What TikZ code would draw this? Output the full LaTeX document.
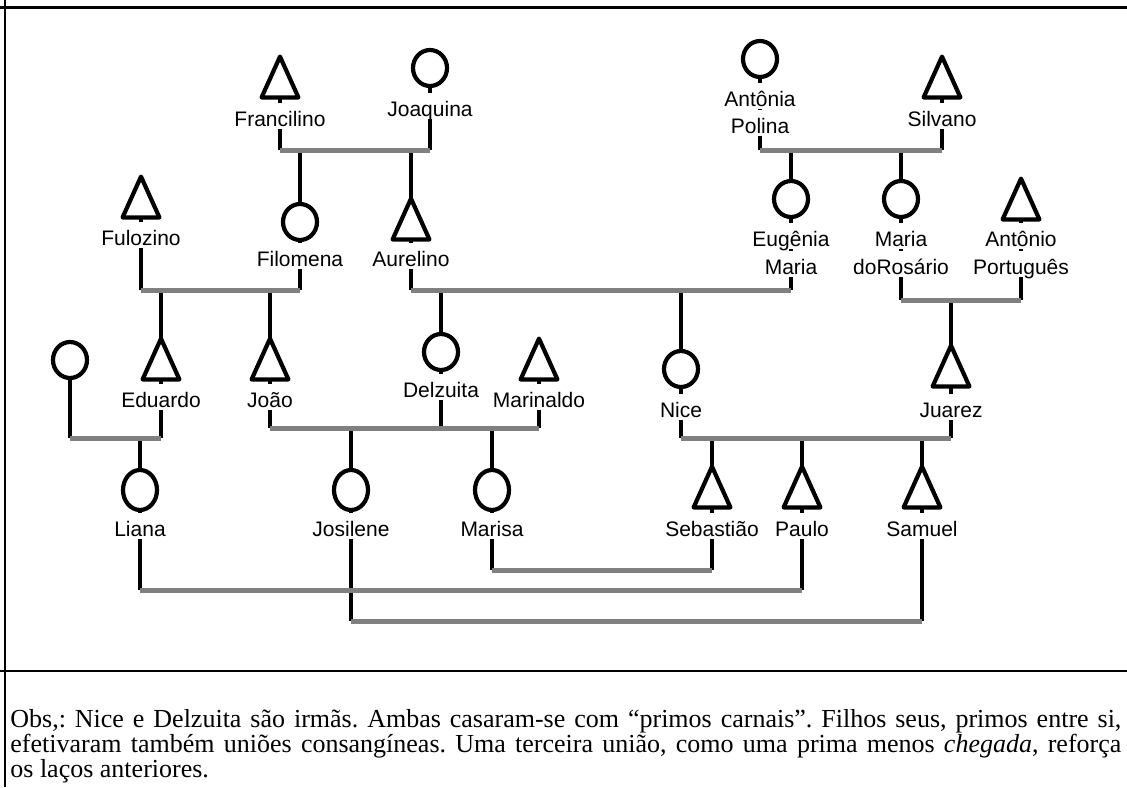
\documentclass[tikz,border=0pt]{standalone}
\usepackage{fontspec}
\setmainfont{Liberation Serif}
\setsansfont{Liberation Sans}
\usepackage{tikz}
\usepackage{xcolor}
\usetikzlibrary{shapes.geometric, positioning}

% homem: triangulo, mulher: circulo
\newcommand{\homem}[2]{%
  \node[simbolo, minimum width=18pt, minimum height=20pt] (#1) at (#2) {};
  \draw[contorno] (#1.north) -- (#1.south east) -- (#1.south west) -- cycle;}
\newcommand{\mulher}[3][18pt]{%
  \node[simbolo, ellipse, draw, contorno, minimum width=17pt, minimum height=#1] (#2) at (#3) {};}

\begin{document}
\frenchspacing
\begin{tikzpicture}[
    x=0.5pt, y=-0.5pt,
    simbolo/.style={
        rectangle,
        inner sep=0pt
    },
    contorno/.style={line width=2.1pt, line join=round},
    linha/.style={line width=2pt},
    casal/.style={line width=2.5pt, draw=gray},
    rotulo/.style={
        rectangle,
        inner sep=0pt,
        outer sep=0pt,
        text height=11.5pt,
        text depth=1.5pt,
        anchor=base,
        font=\sffamily\fontsize{10.5}{12}\selectfont
    },
    nota/.style={
        text width=555.5pt,
        align=justify,
        inner sep=0pt,
        anchor=base west,
        font=\fontsize{13}{12.5}\selectfont
    }
]
    \useasboundingbox (0,0) rectangle (1127,787);

    % Moldura
    \draw[line width=1pt] (4.5,0) -- (4.5,787);
    \draw[line width=1.4pt] (0,7.5) -- (1127,7.5);
    \draw[line width=1.4pt] (0,671) -- (1127,671);

    % 1. Primeira geracao
    \homem{fran}{280,77}
    \mulher{joaq}{430,68}
    \mulher{anto}{760,59}
    \homem{silv}{942,77}

    % 2. Segunda geracao
    \homem{fulo}{141,197}
    \mulher{filo}{300,222}
    \homem{aure}{411,219}
    \mulher{eugm}{791,199}
    \mulher{mros}{901,199}
    \homem{apor}{1021,199}

    % 3. Terceira geracao
    \mulher{espo}{70,360}
    \homem{edua}{161,359}
    \homem{joao}{270,359}
    \mulher{delz}{441,352}
    \homem{mari}{539,359}
    \mulher{nice}{681,369}
    \homem{juar}{951,366}

    % 4. Quarta geracao
    \mulher[20pt]{lian}{140,490}
    \mulher[20pt]{josi}{351,490}
    \mulher[20pt]{mars}{492,490}
    \homem{seba}{712,487}
    \homem{paul}{802,487}
    \homem{samu}{922,487}

    % Nomes
    \node[rotulo] (lfran) at (280,126) {Francilino};
    \node[rotulo] (ljoaq) at (430,116) {Joaquina};
    \node[rotulo] (lanto1) at (760,106) {Antônia};
    \node[rotulo] (lanto2) at (760,133) {Polina};
    \node[rotulo] (lsilv) at (942,126) {Silvano};

    \node[rotulo] (lfulo) at (141,245) {Fulozino};
    \node[rotulo] (lfilo) at (300,266) {Filomena};
    \node[rotulo] (laure) at (411,266) {Aurelino};
    \node[rotulo] (leugm1) at (791,246) {Eugênia};
    \node[rotulo] (leugm2) at (791,274) {Maria};
    \node[rotulo] (lmros1) at (901,246) {Maria};
    \node[rotulo] (lmros2) at (901,274) {doRosário};
    \node[rotulo] (lapor1) at (1021,246) {Antônio};
    \node[rotulo] (lapor2) at (1021,274) {Português};

    \node[rotulo] (ledua) at (161,407) {Eduardo};
    \node[rotulo] (ljoao) at (270,407) {João};
    \node[rotulo] (ldelz) at (441,397) {Delzuita};
    \node[rotulo] (lmari) at (539,407) {Marinaldo};
    \node[rotulo] (lnice) at (681,417) {Nice};
    \node[rotulo] (ljuar) at (951,417) {Juarez};

    \node[rotulo] (llian) at (140,536) {Liana};
    \node[rotulo] (ljosi) at (351,536) {Josilene};
    \node[rotulo] (lmars) at (492,536) {Marisa};
    \node[rotulo] (lseba) at (712,536) {Sebastião};
    \node[rotulo] (lpaul) at (802,536) {Paulo};
    \node[rotulo] (lsamu) at (922,536) {Samuel};

    % Unioes
    \coordinate (u1) at (355,150);
    \coordinate (u2) at (851,150);
    \coordinate (u3) at (220,290);
    \coordinate (u4) at (600,290);
    \coordinate (u5) at (960,300);
    \coordinate (u6) at (115,438);
    \coordinate (u7) at (405,428);
    \coordinate (u8) at (815,438);
    \coordinate (u9) at (600,570);
    \coordinate (u10) at (470,590);
    \coordinate (u11) at (635,621);

    % Conjuges
    \draw[linha] (fran.south) -- (lfran.north) (lfran.south) -- (fran |- u1);
    \draw[linha] (joaq.south) -- (ljoaq.north) (ljoaq.south) -- (joaq |- u1);
    \draw[linha] (anto.south) -- (lanto1.north) (lanto1.south) -- (lanto2.north)
        (lanto2.south) -- (anto |- u2);
    \draw[linha] (silv.south) -- (lsilv.north) (lsilv.south) -- (silv |- u2);
    \draw[linha] (fulo.south) -- (lfulo.north) (lfulo.south) -- (fulo |- u3);
    \draw[linha] (filo.south) -- (lfilo.north) (lfilo.south) -- (filo |- u3);
    \draw[linha] (aure.south) -- (laure.north) (laure.south) -- (aure |- u4);
    \draw[linha] (eugm.south) -- (leugm1.north) (leugm1.south) -- (leugm2.north)
        (leugm2.south) -- (eugm |- u4);
    \draw[linha] (mros.south) -- (lmros1.north) (lmros1.south) -- (lmros2.north)
        (lmros2.south) -- (mros |- u5);
    \draw[linha] (apor.south) -- (lapor1.north) (lapor1.south) -- (lapor2.north)
        (lapor2.south) -- (apor |- u5);
    \draw[linha] (espo.south) -- (espo |- u6);
    \draw[linha] (edua.south) -- (ledua.north) (ledua.south) -- (edua |- u6);
    \draw[linha] (joao.south) -- (ljoao.north) (ljoao.south) -- (joao |- u7);
    \draw[linha] (delz.south) -- (ldelz.north) (ldelz.south) -- (delz |- u7);
    \draw[linha] (mari.south) -- (lmari.north) (lmari.south) -- (mari |- u7);
    \draw[linha] (nice.south) -- (lnice.north) (lnice.south) -- (nice |- u8);
    \draw[linha] (juar.south) -- (ljuar.north) (ljuar.south) -- (juar |- u8);
    \draw[linha] (mars.south) -- (lmars.north) (lmars.south) -- (mars |- u9);
    \draw[linha] (seba.south) -- (lseba.north) (lseba.south) -- (seba |- u9);
    \draw[linha] (lian.south) -- (llian.north) (llian.south) -- (lian |- u10);
    \draw[linha] (paul.south) -- (lpaul.north) (lpaul.south) -- (paul |- u10);
    \draw[linha] (josi.south) -- (ljosi.north) (ljosi.south) -- (josi |- u11);
    \draw[linha] (samu.south) -- (lsamu.north) (lsamu.south) -- (samu |- u11);

    % Filhos
    \draw[linha] (filo |- u1) -- (filo.north) (aure |- u1) -- (aure.north);
    \draw[linha] (eugm |- u2) -- (eugm.north) (mros |- u2) -- (mros.north);
    \draw[linha] (edua |- u3) -- (edua.north) (joao |- u3) -- (joao.north);
    \draw[linha] (delz |- u4) -- (delz.north) (nice |- u4) -- (nice.north);
    \draw[linha] (juar |- u5) -- (juar.north);
    \draw[linha] (lian |- u6) -- (lian.north);
    \draw[linha] (josi |- u7) -- (josi.north) (mars |- u7) -- (mars.north);
    \draw[linha] (seba |- u8) -- (seba.north) (paul |- u8) -- (paul.north)
        (samu |- u8) -- (samu.north);

    % Casamentos
    \draw[casal] (fran |- u1) -- (joaq |- u1);
    \draw[casal] (anto |- u2) -- (silv |- u2);
    \draw[casal] (fulo |- u3) -- (filo |- u3);
    \draw[casal] (aure |- u4) -- (eugm |- u4);
    \draw[casal] (mros |- u5) -- (apor |- u5);
    \draw[casal] (espo |- u6) -- (edua |- u6);
    \draw[casal] (joao |- u7) -- (mari |- u7);
    \draw[casal] (nice |- u8) -- (juar |- u8);
    \draw[casal] (mars |- u9) -- (seba |- u9);
    \draw[casal] (lian |- u10) -- (paul |- u10);
    \draw[casal] (josi |- u11) -- (samu |- u11);

    % Observacao
    \node[nota] (obs) at (10,727) {\baselineskip=12.5pt Obs,: Nice e Delzuita são irmãs. Ambas casaram-se com “primos carnais”. Filhos seus, primos entre si,\linebreak
        efetivaram também uniões consangíneas. Uma terceira união, como uma prima menos \textit{chegada}, reforça\linebreak
        os laços anteriores.};

\end{tikzpicture}
\end{document}
